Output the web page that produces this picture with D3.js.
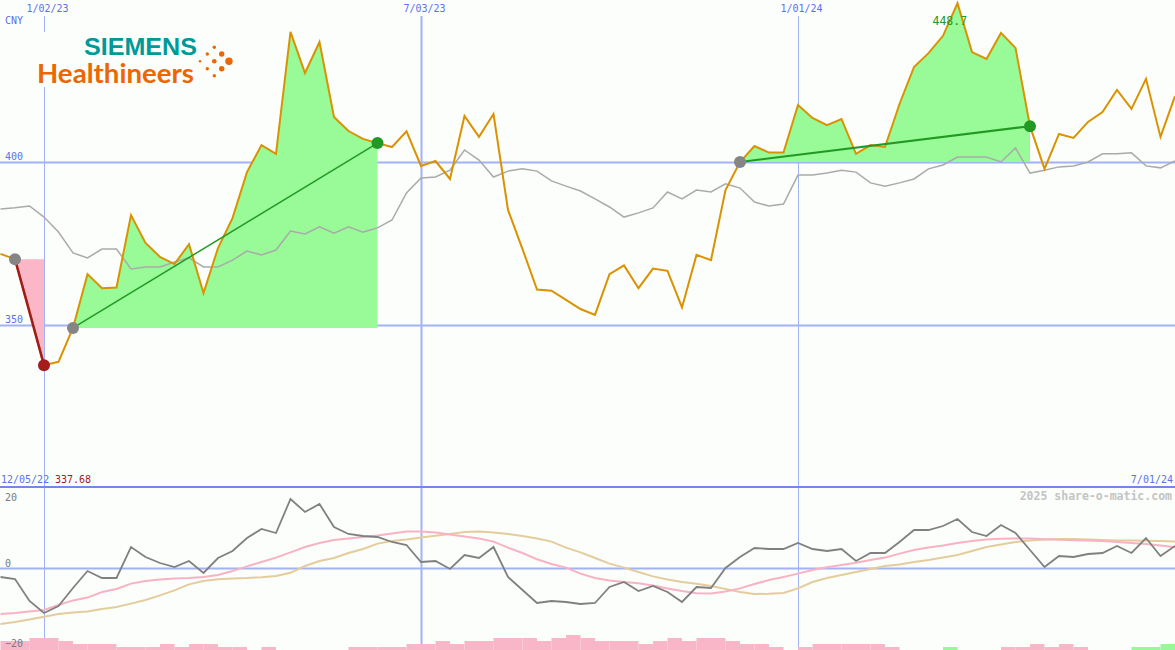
<!DOCTYPE html>
<html lang="en">
<head>
    <meta charset="UTF-8">
    <script src="https://d3js.org/d3.v7.min.js"></script>
    <title>Siemens Healthineers CNY</title>
    <style>
        body {
            margin: 0;
            overflow: hidden;
            background: #fbfefb;
        }
        text {
            font-family: "DejaVu Sans Mono", monospace;
            font-size: 10px;
        }
    </style>
</head>
<body>
    <script>
        const width = 1175,
              height = 650;

        // weekly closes, 12/12/22 .. 7/01/24
        const dates = d3.utcMonday.range(new Date(Date.UTC(2022, 11, 12)), new Date(Date.UTC(2024, 6, 2)));

        const price = [
            371.8, 370.2, 354.3, 337.68, 338.7, 349.1, 365.6, 361.3, 361.5, 383.7,
            375.2, 370.9, 368.7, 374.8, 359.8, 373.6, 382.8, 396.9, 405.2, 402.5,
            439.9, 427.3, 436.8, 413.8, 409.5, 407.1, 405.8, 404.6, 409.4, 398.8,
            400.3, 394.8, 414.1, 407.7, 414.7, 385.3, 373.3, 360.9, 360.5, 357.7,
            354.9, 353.1, 365.6, 368.3, 361.3, 367.3, 366.6, 355.4, 371.5, 369.9,
            391.4, 400.0, 404.9, 402.9, 402.9, 417.5, 413.5, 411.3, 413.2, 402.5,
            405.2, 404.6, 417.8, 429.1, 433.4, 438.7, 448.7, 433.7, 431.6, 439.6,
            435.0, 411.0, 397.9, 408.6, 407.4, 412.3, 415.3, 422.1, 416.3, 425.5,
            407.7, 420.2
        ];

        const movingAvg = [
            385.6, 386.0, 386.5, 383.1, 378.5, 372.1, 370.6, 373.3, 373.3, 367.2,
            367.8, 367.8, 369.3, 370.6, 367.8, 367.8, 369.9, 372.7, 371.5, 373.0,
            378.8, 377.9, 380.1, 378.2, 380.1, 378.5, 379.8, 382.2, 390.5, 395.1,
            395.4, 397.5, 403.7, 400.6, 395.4, 397.2, 397.9, 397.2, 394.2, 392.6,
            391.1, 388.7, 386.2, 383.1, 384.4, 385.9, 390.8, 388.7, 391.4, 390.8,
            393.3, 392.0, 387.7, 386.5, 387.1, 396.0, 396.0, 396.6, 397.5, 396.9,
            393.6, 392.6, 393.6, 394.8, 397.9, 399.1, 401.5, 401.5, 401.5, 400.0,
            404.3, 396.6, 397.5, 398.5, 398.8, 400.0, 402.5, 402.5, 402.8, 398.8,
            398.2, 400.3
        ];

        const osc = [
            -2.25, -2.75, -8.25, -11.25, -9.5, -5.0, -0.75, -2.5, -2.5, 5.25,
            2.75, 1.25, 0.25, 1.75, -1.25, 2.5, 4.25, 7.5, 9.75, 8.75,
            17.25, 14.0, 16.0, 10.25, 8.5, 8.0, 7.75, 6.5, 5.75, 1.5,
            1.75, -0.25, 3.25, 2.5, 5.25, -2.25, -5.5, -8.75, -8.25, -8.5,
            -9.0, -8.75, -4.75, -3.5, -5.75, -4.5, -6.0, -8.5, -4.75, -5.0,
            0.0, 2.75, 5.0, 4.75, 4.75, 6.25, 4.75, 4.25, 4.75, 1.75,
            3.75, 3.75, 6.5, 9.5, 9.5, 10.5, 12.25, 9.0, 8.0, 10.75,
            8.75, 4.5, 0.25, 3.0, 2.75, 3.5, 3.75, 5.5, 3.75, 7.5,
            3.0, 5.5
        ];

        const oscFast = [
            -11.5, -11.25, -10.9, -10.5, -9.25, -8.1, -7.4, -6.0, -5.25, -3.9,
            -3.25, -2.9, -2.6, -2.5, -2.25, -1.75, -0.75, 0.4, 1.5, 2.6,
            3.9, 5.25, 6.25, 7.0, 7.4, 7.75, 8.1, 8.6, 9.1, 9.1,
            8.9, 8.4, 7.9, 7.4, 6.6, 5.1, 3.75, 2.2, 1.0, 0.1,
            -1.4, -2.5, -3.1, -3.5, -3.8, -4.4, -5.1, -5.75, -6.3, -6.4,
            -5.9, -5.1, -4.0, -3.0, -2.25, -1.4, -0.5, 0.2, 0.75, 1.3,
            2.0, 2.6, 3.6, 4.5, 5.1, 5.6, 6.25, 6.75, 7.1, 7.3,
            7.4, 7.4, 7.2, 7.05, 6.95, 6.85, 6.75, 6.5, 6.25, 6.0,
            5.6, 5.2
        ];

        const oscSlow = [
            -14.0, -13.5, -12.9, -12.2, -11.5, -11.1, -10.9, -10.25, -9.75, -8.9,
            -8.0, -6.85, -5.6, -4.1, -3.25, -2.8, -2.6, -2.5, -2.3, -2.0,
            -1.2, 0.5, 1.75, 2.5, 3.75, 4.75, 6.1, 6.75, 7.1, 7.6,
            8.05, 8.5, 9.0, 9.1, 8.9, 8.5, 8.0, 7.4, 6.6, 5.1,
            3.9, 2.5, 1.1, 0.1, -1.0, -2.1, -2.9, -3.5, -3.95, -4.5,
            -5.25, -6.0, -6.5, -6.45, -6.25, -5.1, -3.5, -2.5, -1.75, -1.0,
            -0.25, 0.5, 0.9, 1.5, 2.0, 2.6, 3.25, 4.25, 5.25, 5.9,
            6.5, 6.9, 7.1, 7.25, 7.25, 7.1, 7.0, 6.9, 6.9, 6.8,
            6.75, 6.6
        ];

        // histogram at the bottom (negative = pink, positive = green)
        const histo = [
            -3, -3, -4, -4, -3, -2, -2, -2, -1, -1,
            -1, -2, -1, -2, -2, -1, -1, 0, -1, 0,
            0, 0, 0, 0, -1, -1, -1, -1, -2, -2,
            -3, -2, -3, -3, -4, -4, -4, -3, -4, -5,
            -4, -3, -3, -3, -2, -3, -4, -3, -4, -4,
            -3, -2, -2, -1, 0, -1, -2, -2, -2, -2,
            -2, -1, 0, 0, 0, 1, 0, 0, 0, -1,
            -1, -2, -1, -2, -1, 0, 0, 0, 1, 1,
            2, 0
        ];

        const xTickDates = [new Date(Date.UTC(2023, 0, 2)), new Date(Date.UTC(2023, 6, 3)), new Date(Date.UTC(2024, 0, 1))];
        const xTickLabels = ["1/02/23", "7/03/23", "1/01/24"];
        const xTickWidths = [1, 2, 1];
        const yTicks = [350, 400];
        const oscTicks = [-20, 0, 20];

        // [from, to] indices of the trend segments
        const downTrend = [1, 3];
        const upTrends = [[5, 26], [51, 71]];

        const startLabel = "12/05/22";
        const endLabel = "7/01/24";

        const gridColor = "#a3b2f5";
        const blueText = "#5f6ff0";

        const svg = d3.select('body')
            .append('svg')
            .attr('width', width)
            .attr('height', height);

        svg.append('rect')
            .attr('width', width)
            .attr('height', height)
            .attr('fill', '#fbfefb');

        const x = d3.scaleUtc()
            .domain([xTickDates[0], new Date(Date.UTC(2024, 6, 1))])
            .range([44, 1175]);

        const y = d3.scaleLinear()
            .domain([350, 400])
            .range([325, 162]);

        const yOsc = d3.scaleLinear()
            .domain([-20, 20])
            .range([648, 488]);

        const yHist = d3.scaleLinear()
            .domain([0, 5])
            .range([650, 635]);

        const data = dates.map((d, i) => ({
            date: d,
            price: price[i],
            ma: movingAvg[i],
            osc: osc[i],
            fast: oscFast[i],
            slow: oscSlow[i],
            hist: histo[i]
        }));

        // vertical grid lines via the x axis
        const xAxis = d3.axisBottom(x)
            .tickValues(xTickDates)
            .tickSize(634)
            .tickFormat((d, i) => xTickLabels[i]);

        const xAxisGroup = svg.append('g')
            .attr('transform', 'translate(0, 16)')
            .call(xAxis);
        xAxisGroup.select('.domain').remove();
        xAxisGroup.selectAll('.tick line')
            .attr('stroke', gridColor)
            .attr('stroke-width', (d, i) => xTickWidths[i]);
        xAxisGroup.selectAll('.tick text')
            .attr('y', -4)
            .attr('dy', 0)
            .attr('dx', 3)
            .attr('fill', blueText)
            .style('font-family', '"DejaVu Sans Mono", monospace')
            .style('font-size', '10px');

        // histogram bars
        const barW = x(dates[1]) - x(dates[0]);
        svg.append('g')
            .selectAll('rect')
            .data(data.filter(d => d.hist !== 0))
            .enter()
            .append('rect')
            .attr('x', d => x(d.date))
            .attr('y', d => yHist(Math.abs(d.hist)))
            .attr('width', barW)
            .attr('height', d => yHist(0) - yHist(Math.abs(d.hist)))
            .attr('fill', d => d.hist < 0 ? '#f9b6c9' : '#98f898');

        // horizontal grid lines via the y axis
        const yAxis = d3.axisRight(y)
            .tickValues(yTicks)
            .tickSize(width);
        const yAxisGroup = svg.append('g').call(yAxis);
        yAxisGroup.select('.domain').remove();
        yAxisGroup.selectAll('.tick line')
            .attr('stroke', gridColor)
            .attr('stroke-width', 2);
        yAxisGroup.selectAll('.tick text')
            .attr('x', 5)
            .attr('dy', -3)
            .attr('text-anchor', 'start')
            .attr('fill', blueText)
            .style('font-family', '"DejaVu Sans Mono", monospace')
            .style('font-size', '10px');

        // oscillator axis
        const oscAxis = d3.axisRight(yOsc)
            .tickValues(oscTicks)
            .tickSize(width);
        const oscAxisGroup = svg.append('g').call(oscAxis);
        oscAxisGroup.select('.domain').remove();
        oscAxisGroup.selectAll('.tick line')
            .attr('stroke', d => d === 0 ? gridColor : 'none')
            .attr('stroke-width', 2);
        oscAxisGroup.selectAll('.tick text')
            .attr('x', 5)
            .attr('dy', d => d === 20 ? 12 : -2)
            .attr('text-anchor', 'start')
            .attr('fill', '#7a7a7a')
            .style('font-family', '"DejaVu Sans Mono", monospace')
            .style('font-size', '10px');

        // divider between the panels
        svg.append('line')
            .attr('x1', 0)
            .attr('x2', width)
            .attr('y1', 487)
            .attr('y2', 487)
            .attr('stroke', '#7585ea')
            .attr('stroke-width', 2);

        // fills under the trend segments
        const segment = (a, b) => data.slice(a, b + 1);

        svg.append('path')
            .datum(segment(downTrend[0], downTrend[1]))
            .attr('fill', '#fbb6c8')
            .attr('d', d3.area()
                .x(d => x(d.date))
                .y0(y(price[downTrend[0]]))
                .y1(d => y(d.price)));

        upTrends.forEach(([a, b]) => {
            svg.append('path')
                .datum(segment(a, b))
                .attr('fill', '#98fb98')
                .attr('d', d3.area()
                    .x(d => x(d.date))
                    .y0(y(price[a]))
                    .y1(d => y(d.price)));
        });

        // moving average
        svg.append('path')
            .datum(data)
            .attr('fill', 'none')
            .attr('stroke', '#aaaaaa')
            .attr('stroke-width', 1.5)
            .attr('d', d3.line().x(d => x(d.date)).y(d => y(d.ma)));

        // price
        svg.append('path')
            .datum(data)
            .attr('fill', 'none')
            .attr('stroke', '#da9200')
            .attr('stroke-width', 2)
            .attr('d', d3.line().x(d => x(d.date)).y(d => y(d.price)));

        // trend lines
        svg.append('line')
            .attr('x1', x(dates[downTrend[0]]))
            .attr('y1', y(price[downTrend[0]]))
            .attr('x2', x(dates[downTrend[1]]))
            .attr('y2', y(price[downTrend[1]]))
            .attr('stroke', '#a01c1c')
            .attr('stroke-width', 2.5);

        upTrends.forEach(([a, b], i) => {
            svg.append('line')
                .attr('x1', x(dates[a]))
                .attr('y1', y(price[a]))
                .attr('x2', x(dates[b]))
                .attr('y2', y(price[b]))
                .attr('stroke', '#229922')
                .attr('stroke-width', i === 0 ? 1.5 : 2);
        });

        // dots
        const dots = [
            { i: downTrend[0], c: '#858585' },
            { i: downTrend[1], c: '#a51c1c' },
            { i: upTrends[0][0], c: '#858585' },
            { i: upTrends[0][1], c: '#229922' },
            { i: upTrends[1][0], c: '#858585' },
            { i: upTrends[1][1], c: '#229922' }
        ];
        svg.selectAll('circle.dot')
            .data(dots)
            .enter()
            .append('circle')
            .attr('class', 'dot')
            .attr('cx', d => x(dates[d.i]))
            .attr('cy', d => y(price[d.i]))
            .attr('r', 6)
            .attr('fill', d => d.c);

        // oscillator lines
        const oscLine = key => d3.line().x(d => x(d.date)).y(d => yOsc(d[key]));
        [['slow', '#e4cc9c'], ['fast', '#f8b2c4'], ['osc', '#808080']].forEach(([key, c]) => {
            svg.append('path')
                .datum(data)
                .attr('fill', 'none')
                .attr('stroke', c)
                .attr('stroke-width', key === 'osc' ? 1.8 : 2)
                .attr('d', oscLine(key));
        });

        // peak label
        const peakIdx = d3.maxIndex(price);
        svg.append('text')
            .attr('x', x(dates[peakIdx]) - 25)
            .attr('y', y(price[peakIdx]) + 22)
            .attr('fill', '#229922')
            .style('font-size', '11.5px')
            .text(d3.format('.1f')(price[peakIdx]));

        // text labels
        svg.append('text')
            .attr('x', 5)
            .attr('y', 24)
            .attr('fill', blueText)
            .text('CNY');

        svg.append('text')
            .attr('x', 1)
            .attr('y', 483)
            .attr('fill', blueText)
            .text(startLabel);

        svg.append('text')
            .attr('x', 55)
            .attr('y', 483)
            .attr('fill', '#a01c1c')
            .text(d3.format('.2f')(d3.min(price)));

        svg.append('text')
            .attr('x', 1173)
            .attr('y', 483)
            .attr('text-anchor', 'end')
            .attr('fill', blueText)
            .text(endLabel);

        svg.append('text')
            .attr('x', 1172)
            .attr('y', 500)
            .attr('text-anchor', 'end')
            .attr('fill', '#c4c4c4')
            .style('font-size', '11.5px')
            .style('font-weight', 'bold')
            .text('2025 share-o-matic.com');

        // logo
        const logo = svg.append('g');
        logo.append('rect')
            .attr('x', 34)
            .attr('y', 32)
            .attr('width', 206)
            .attr('height', 55)
            .attr('fill', '#fbfefb');
        logo.append('text')
            .attr('x', 84)
            .attr('y', 54.5)
            .attr('fill', '#009999')
            .attr('textLength', 113)
            .attr('lengthAdjust', 'spacingAndGlyphs')
            .style('font-family', '"Liberation Sans", Arial, sans-serif')
            .style('font-weight', 'bold')
            .style('font-size', '24.5px')
            .text('SIEMENS');
        logo.append('text')
            .attr('x', 37)
            .attr('y', 82.5)
            .attr('fill', '#ec6602')
            .attr('textLength', 157)
            .attr('lengthAdjust', 'spacingAndGlyphs')
            .style('font-family', 'Lato, sans-serif')
            .style('font-weight', 'bold')
            .style('font-size', '26px')
            .text('Healthineers');
        const logoDots = [
            [214.3, 47.3, 1.7], [207.3, 54, 1.7], [221.7, 54, 2.7], [200, 61.3, 1.2],
            [214.3, 61.3, 2.3], [229, 61.3, 3.7], [207.3, 68.7, 1.7], [221.7, 68.7, 2.7], [214.3, 75.7, 1.7]
        ];
        logo.selectAll('circle')
            .data(logoDots)
            .enter()
            .append('circle')
            .attr('cx', d => d[0])
            .attr('cy', d => d[1])
            .attr('r', d => d[2])
            .attr('fill', '#ec6602');
    </script>
</body>
</html>
